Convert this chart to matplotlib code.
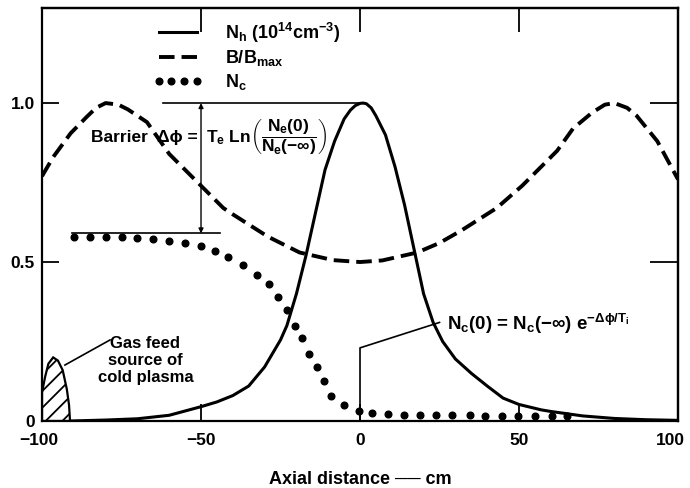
import matplotlib
matplotlib.use("Agg")
import matplotlib.pyplot as plt
import matplotlib.transforms as mtransforms

plt.rcParams['font.family'] = ['Liberation Sans', 'DejaVu Sans']
plt.rcParams['font.weight'] = 'bold'
plt.rcParams['mathtext.fontset'] = 'custom'
plt.rcParams['mathtext.rm'] = 'Liberation Sans:bold'
plt.rcParams['mathtext.it'] = 'Liberation Sans:bold'
plt.rcParams['mathtext.bf'] = 'Liberation Sans:bold'
plt.rcParams['mathtext.sf'] = 'Liberation Sans:bold'
plt.rcParams['hatch.linewidth'] = 1.3

# ---- data ----
nh_x = [-91, -80, -70, -60, -50, -45, -40, -35, -30, -25, -23, -20, -17, -14, -11, -8, -5, -3, -1.5, 0,
        1, 2, 3.5, 5, 8, 11, 14, 17, 20, 23, 26, 30, 35, 40, 45, 50, 57, 60, 70, 80, 90, 100]
nh_y = [0.0, 0.003, 0.007, 0.018, 0.045, 0.06, 0.08, 0.11, 0.17, 0.255, 0.30, 0.40, 0.52, 0.655, 0.79, 0.88, 0.95, 0.978, 0.992, 0.999,
        1.0, 0.998, 0.985, 0.96, 0.90, 0.80, 0.68, 0.54, 0.40, 0.31, 0.25, 0.195, 0.15, 0.11, 0.072, 0.052, 0.035, 0.03, 0.016, 0.008, 0.004, 0.002]

b_x = [-100, -96.5, -91, -86, -83, -80, -76, -73, -67, -60, -50, -43, -40, -29, -19, -8.5, 0,
       7, 18, 25, 32, 43, 51, 57, 62, 67, 73, 77, 80, 84, 87, 93.5, 100]
b_y = [0.77, 0.83, 0.905, 0.956, 0.985, 1.0, 0.995, 0.98, 0.94, 0.84, 0.74, 0.67, 0.65, 0.58, 0.53, 0.506, 0.50,
       0.505, 0.53, 0.56, 0.60, 0.67, 0.74, 0.80, 0.85, 0.92, 0.97, 0.995, 1.0, 0.985, 0.96, 0.88, 0.76]

nc_x = [-90, -85, -80, -75, -70, -65, -60, -55, -50, -45.6, -41.5, -36.8, -32.4, -28.6, -25.9, -23, -20.4,
        -18.3, -16, -13.6, -11.2, -9.2, -5, -0.3, 3.7, 8.7, 13.8, 19, 24, 29, 34.6, 39.3, 44.6, 49.7, 55, 60.4, 65]
nc_y = [0.58, 0.58, 0.58, 0.578, 0.575, 0.572, 0.567, 0.56, 0.55, 0.535, 0.516, 0.49, 0.46, 0.43, 0.39, 0.35, 0.30,
        0.26, 0.21, 0.17, 0.125, 0.08, 0.05, 0.033, 0.024, 0.022, 0.02, 0.02, 0.02, 0.018, 0.018, 0.017, 0.016, 0.016, 0.015, 0.015, 0.015]

gas_x = [-100, -100, -99, -98, -96.5, -95, -93.5, -92.2, -91.5, -91.2]
gas_y = [0.0, 0.09, 0.14, 0.18, 0.20, 0.19, 0.16, 0.10, 0.05, 0.0]

x_ticks = [-100, -50, 0, 50, 100]
x_ticklabels = ['\u2212100', '\u221250', '0', '50', '100']
y_ticks = [0, 0.5, 1.0]
y_ticklabels = ['0', '0.5', '1.0']
top_ticks = [-50, 0, 50]
right_ticks = [0.5, 1.0]

labels = [r'N$_h$ (10$^{14}$cm$^{-3}$)', r'B/B$_{max}$', r'N$_c$']

fig = plt.figure(figsize=(6.9, 4.88), dpi=100)
ax = fig.add_axes([0.0609, 0.1373, 0.9217, 0.8463])

l1, = ax.plot(nh_x, nh_y, color='black', lw=2.2, solid_joinstyle='round')
l2, = ax.plot(b_x, b_y, color='black', lw=2.8, dashes=(4, 1.8))
l3, = ax.plot(nc_x, nc_y, linestyle='none', marker='o', ms=4.8, color='black')

# gas feed source
ax.fill(gas_x, gas_y, facecolor='white', edgecolor='black', hatch='//', lw=1.6)

# barrier annotation lines
ax.plot([-62, 0], [1.0, 1.0], color='black', lw=1.2)
ax.plot([-90.5, -44], [0.59, 0.59], color='black', lw=1.2)
ax.annotate('', xy=(-50, 0.59), xytext=(-50, 1.0),
            arrowprops=dict(arrowstyle='<|-|>', color='black', lw=1.0,
                            mutation_scale=7, shrinkA=0, shrinkB=0))
ax.text(-51, 0.893, 'Barrier  \u0394\u03d5 =', ha='right', va='center', fontsize=12.5, fontweight='bold')
ax.text(-48.5, 0.893, r'T$_e$ Ln$\left(\dfrac{N_e(0)}{N_e(-\infty)}\right)$',
        ha='left', va='center', fontsize=12.5, fontweight='bold')

# N_c(0) annotation
ax.plot([25, 0, 0], [0.31, 0.23, 0.0], color='black', lw=1.2)
ax.text(27.5, 0.305, r'N$_c$(0) = N$_c$($-\infty$) e$^{-\Delta\phi/T_i}$',
        ha='left', va='center', fontsize=13.5, fontweight='bold')

# gas feed annotation
ax.plot([-78.6, -92.8], [0.255, 0.176], color='black', lw=1.2)
ax.text(-67.5, 0.19, 'Gas feed\nsource of\ncold plasma', ha='center', va='center',
        fontsize=12, fontweight='bold', linespacing=1.2)

ax.set_xlim(-100, 100)
ax.set_ylim(0, 1.299)
ax.set_xticks(x_ticks)
ax.set_xticklabels(x_ticklabels)
ax.set_yticks(y_ticks)
ax.set_yticklabels(y_ticklabels)
ax.tick_params(axis='both', direction='in', width=1.3, labelsize=12.5)
ax.tick_params(axis='x', length=12, pad=9)
ax.tick_params(axis='y', length=12, pad=5)
for lab in ax.get_xticklabels() + ax.get_yticklabels():
    lab.set_fontweight('bold')
xl = ax.get_xticklabels()
xl[-1].set_transform(xl[-1].get_transform() + mtransforms.ScaledTranslation(-8 / 100, 0, fig.dpi_scale_trans))
xl[0].set_transform(xl[0].get_transform() + mtransforms.ScaledTranslation(-3 / 100, 0, fig.dpi_scale_trans))
for s in ax.spines.values():
    s.set_linewidth(1.6)

sx = ax.secondary_xaxis('top')
sx.set_xticks(top_ticks)
sx.set_xticklabels([])
sx.tick_params(direction='in', length=17, width=1.3)
sx.spines['top'].set_linewidth(1.6)
sy = ax.secondary_yaxis('right')
sy.set_yticks(right_ticks)
sy.set_yticklabels([])
sy.tick_params(direction='in', length=20, width=1.3)
sy.spines['right'].set_linewidth(1.6)

ax.set_xlabel('Axial distance \u2500\u2500 cm', fontsize=13, fontweight='bold', labelpad=16)

ax.legend([l1, l2, l3], labels, loc='upper left', bbox_to_anchor=(0.155, 1.0),
          frameon=False, fontsize=13, handlelength=2.7, handletextpad=1.3,
          labelspacing=0.2, borderaxespad=0.3, numpoints=4)

fig.savefig('out.png', dpi=100)
